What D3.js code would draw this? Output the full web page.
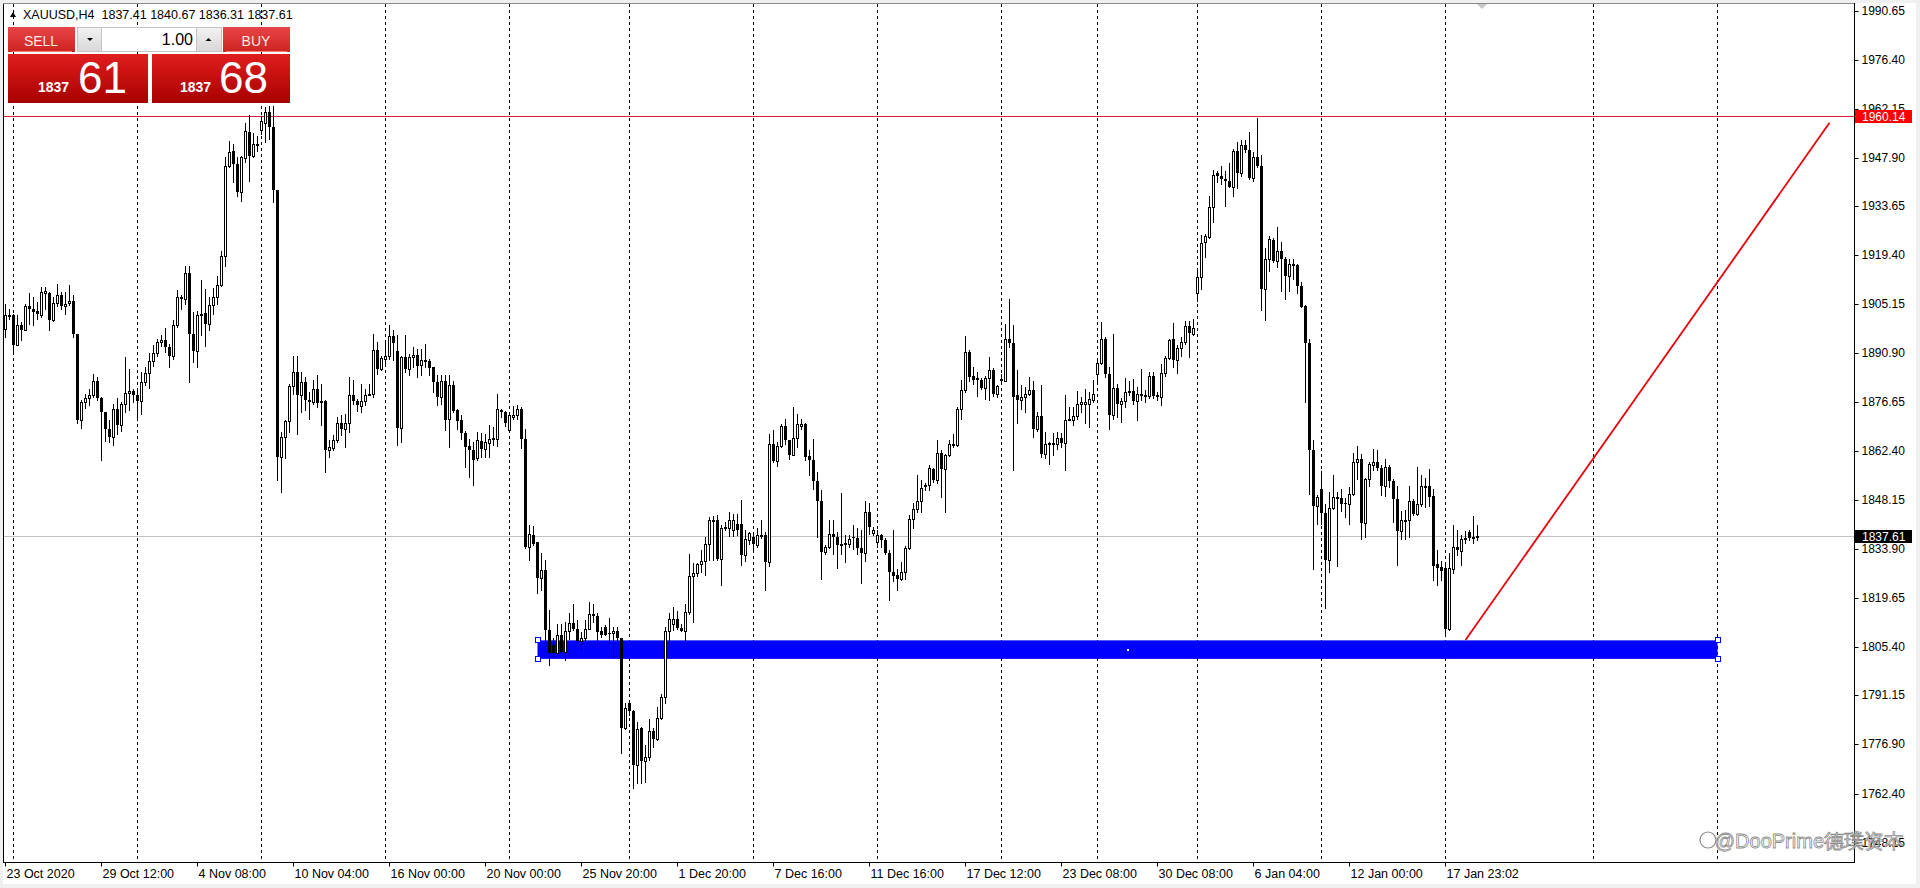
<!DOCTYPE html>
<html><head><meta charset="utf-8">
<script src="https://cdn.jsdelivr.net/npm/d3@7"></script>
<style>body{margin:0;background:#fff;overflow:hidden}text{font-family:"Liberation Sans",Arial,sans-serif}</style>
</head><body><svg id="c" width="1920" height="888"></svg>
<script>
// ---------------- data ----------------
const openP=[1898.0,1902.1,1901.9,1893.3,1899.2,1897.7,1904.5,1903.8,1903.3,1901.9,
1908.4,1908.5,1900.6,1905.6,1907.7,1904.6,1905.6,1906.2,1896.5,1871.5,
1876.7,1877.8,1878.6,1882.7,1877.8,1873.8,1868.9,1866.5,1874.5,1869.9,
1876.2,1879.3,1879.8,1878.6,1876.9,1882.5,1885.1,1888.5,1891.0,1894.1,
1894.8,1892.7,1890.2,1899.2,1907.2,1906.7,1914.3,1896.5,1891.4,1901.9,
1902.6,1899.5,1904.8,1907.2,1910.8,1919.1,1945.5,1949.9,1946.0,1937.8,
1947.8,1955.4,1948.4,1951.8,1955.9,1958.1,1961.1,1956.7,1938.3,1860.6,
1866.5,1871.0,1881.2,1885.4,1878.6,1882.5,1877.2,1876.7,1880.5,1876.9,
1876.9,1862.6,1863.3,1865.5,1870.4,1868.9,1870.4,1878.8,1876.9,1875.5,
1876.9,1878.8,1879.1,1891.7,1886.2,1889.3,1890.2,1895.9,1891.4,1869.1,
1889.9,1886.2,1889.8,1890.4,1887.3,1888.8,1888.5,1886.8,1882.5,1878.1,
1882.7,1871.8,1881.7,1874.2,1871.3,1867.7,1863.9,1862.6,1860.2,1865.2,
1863.1,1864.8,1865.8,1865.9,1874.4,1873.6,1868.6,1872.3,1873.0,1874.7,
1866.0,1834.4,1837.8,1835.9,1825.5,1827.8,1810.2,1805.8,1803.4,1808.9,
1803.9,1810.0,1812.3,1810.4,1807.1,1808.0,1810.6,1815.0,1814.3,1810.0,
1811.1,1809.4,1809.2,1810.0,1807.8,1781.8,1789.0,1786.7,1770.9,1781.8,
1772.1,1773.1,1780.8,1778.6,1784.5,1790.6,1810.0,1812.1,1813.5,1810.9,
1810.0,1815.5,1825.9,1826.7,1829.4,1830.4,1835.2,1842.0,1842.4,1831.0,
1839.8,1839.8,1839.5,1841.2,1841.2,1832.0,1836.4,1837.4,1834.9,1837.5,
1837.8,1830.1,1864.3,1859.5,1863.7,1869.6,1865.5,1861.3,1866.3,1869.8,
1870.1,1860.8,1859.9,1853.6,1847.8,1833.0,1834.3,1838.1,1837.4,1834.9,
1835.2,1835.4,1837.4,1836.9,1834.0,1832.7,1844.6,1838.5,1835.9,1837.8,
1836.4,1832.7,1827.2,1826.2,1825.2,1827.2,1834.0,1842.7,1845.6,1847.8,
1852.4,1852.4,1857.2,1853.8,1861.8,1857.2,1861.1,1864.0,1864.0,1874.7,
1880.2,1891.2,1884.1,1883.7,1883.1,1880.8,1883.7,1885.9,1879.1,1883.4,
1882.8,1895.1,1893.8,1878.6,1877.3,1878.1,1878.9,1880.2,1868.9,1872.5,
1861.6,1864.3,1864.3,1864.5,1866.3,1864.7,1871.3,1871.5,1872.5,1876.2,
1876.2,1876.2,1877.3,1884.7,1888.1,1895.1,1884.9,1872.8,1880.8,1876.0,
1876.9,1879.5,1879.9,1876.9,1879.1,1878.5,1878.5,1884.1,1878.6,1878.1,
1885.1,1889.6,1895.1,1889.0,1892.5,1894.1,1898.7,1896.5,1908.4,1913.0,
1923.2,1924.7,1933.4,1943.3,1942.6,1941.6,1941.2,1939.4,1949.9,1943.3,
1951.4,1950.1,1942.0,1948.0,1945.3,1909.6,1918.4,1923.9,1917.6,1920.6,
1918.2,1913.4,1916.9,1916.6,1910.4,1904.6,1893.9,1862.8,1846.4,1851.3,
1844.4,1830.7,1845.7,1848.7,1848.8,1847.3,1847.0,1849.8,1859.3,1860.1,
1841.4,1854.1,1858.3,1859.3,1857.3,1852.3,1857.8,1853.5,1848.3,1839.0,
1842.0,1842.2,1847.8,1844.0,1847.0,1852.1,1852.1,1849.3,1829.4,1828.7,
1828.2,1810.4,1828.0,1834.4,1833.2,1836.6,1838.7,1837.0,1837.41];
const highP=[1905.3,1903.8,1902.4,1901.9,1899.9,1905.3,1908.5,1907.2,1905.8,1910.1,
1910.1,1908.7,1907.2,1911.1,1908.7,1908.7,1910.8,1907.7,1896.5,1877.2,
1879.1,1880.5,1884.9,1883.9,1878.1,1873.8,1871.3,1876.2,1877.9,1876.7,
1889.8,1886.4,1880.5,1880.5,1885.4,1886.8,1891.0,1893.2,1895.1,1896.1,
1898.3,1893.6,1900.6,1909.2,1907.7,1916.2,1916.2,1902.8,1903.3,1912.1,
1909.6,1907.2,1909.8,1913.5,1920.8,1948.0,1952.8,1951.8,1948.0,1948.4,
1958.1,1960.3,1955.0,1954.1,1960.1,1962.5,1963.0,1963.0,1938.3,1867.9,
1871.3,1882.0,1890.2,1890.2,1885.4,1883.9,1879.6,1883.0,1884.4,1882.0,
1877.2,1865.5,1867.0,1872.3,1872.8,1873.3,1883.9,1883.0,1877.6,1882.0,
1880.5,1882.0,1896.5,1894.1,1890.2,1894.1,1899.0,1897.5,1896.1,1890.2,
1896.1,1890.7,1892.7,1892.2,1892.2,1893.6,1889.3,1886.8,1884.4,1884.4,
1884.4,1884.4,1882.7,1874.7,1872.8,1868.1,1866.0,1865.0,1867.9,1867.7,
1867.4,1869.9,1869.4,1879.0,1874.7,1874.0,1873.4,1875.6,1875.9,1875.2,
1868.9,1840.7,1840.4,1835.9,1832.7,1830.7,1816.0,1807.8,1812.1,1812.1,
1812.6,1815.2,1817.7,1813.1,1809.7,1813.1,1818.4,1817.9,1815.2,1811.0,
1811.6,1813.6,1811.0,1811.2,1807.8,1788.8,1789.8,1786.9,1783.5,1782.0,
1776.7,1784.2,1781.6,1787.9,1791.7,1811.2,1815.2,1817.0,1815.8,1812.1,
1817.9,1832.5,1829.6,1829.8,1833.5,1837.3,1843.2,1843.4,1843.6,1840.7,
1841.7,1844.6,1844.1,1844.1,1848.0,1839.3,1838.8,1838.8,1839.8,1842.4,
1838.8,1867.2,1868.4,1865.0,1870.3,1871.8,1865.7,1875.2,1873.2,1871.8,
1870.5,1862.8,1866.0,1856.3,1850.9,1834.9,1842.4,1842.2,1838.8,1850.2,
1837.8,1837.8,1840.8,1839.8,1839.3,1847.8,1847.1,1840.3,1839.3,1838.3,
1836.9,1833.5,1839.3,1827.9,1830.1,1834.6,1843.7,1847.1,1855.3,1853.8,
1853.1,1858.2,1857.5,1865.7,1862.6,1861.6,1865.5,1867.4,1875.2,1883.0,
1896.0,1891.7,1887.0,1885.4,1883.7,1884.1,1889.7,1886.6,1881.5,1884.9,
1899.5,1906.7,1899.0,1885.9,1881.5,1881.0,1883.9,1882.9,1873.8,1881.5,
1867.9,1865.0,1867.5,1867.9,1867.5,1878.6,1875.2,1875.2,1879.9,1878.1,
1880.5,1879.6,1883.2,1889.3,1899.9,1895.6,1886.8,1896.4,1881.8,1877.9,
1883.7,1882.8,1883.5,1881.0,1886.4,1880.1,1885.4,1885.4,1879.6,1887.8,
1890.2,1895.1,1899.7,1893.2,1895.6,1900.4,1900.4,1900.9,1915.5,1925.2,
1925.5,1936.8,1944.3,1943.9,1945.5,1944.1,1946.2,1950.4,1952.3,1953.0,
1953.0,1955.4,1949.5,1959.3,1948.5,1921.4,1924.9,1924.4,1927.7,1923.4,
1918.9,1918.4,1918.2,1916.9,1911.6,1904.9,1894.9,1865.5,1849.5,1856.5,
1846.8,1850.3,1855.3,1850.3,1851.3,1848.8,1851.8,1861.8,1863.8,1861.5,
1854.5,1859.3,1863.1,1862.8,1858.3,1860.1,1858.3,1854.1,1852.3,1845.0,
1845.2,1852.1,1848.3,1857.8,1855.3,1854.5,1857.1,1851.3,1833.4,1830.2,
1829.2,1832.7,1840.7,1839.4,1838.0,1839.0,1839.4,1843.4,1840.67];
const lowP=[1895.6,1900.9,1890.7,1893.2,1894.6,1897.5,1899.5,1899.0,1900.7,1901.4,
1903.8,1897.5,1900.4,1904.6,1903.8,1902.4,1904.8,1895.6,1870.4,1869.2,
1875.0,1875.7,1878.1,1877.2,1859.9,1865.3,1865.0,1864.1,1867.4,1868.2,
1873.8,1874.2,1876.7,1872.3,1873.3,1881.5,1880.8,1887.1,1890.2,1893.0,
1891.2,1886.8,1889.3,1898.5,1903.8,1905.3,1882.5,1888.3,1886.8,1896.1,
1893.0,1897.5,1902.4,1905.3,1910.6,1916.4,1945.0,1940.7,1936.8,1935.3,
1946.5,1941.2,1948.0,1949.9,1954.7,1952.3,1953.3,1934.9,1853.9,1850.5,
1860.2,1867.9,1879.1,1867.4,1873.8,1874.2,1871.8,1876.2,1875.2,1869.9,
1856.3,1860.6,1862.6,1865.0,1867.0,1863.6,1867.9,1876.2,1873.9,1873.8,
1875.7,1878.6,1878.1,1884.9,1885.9,1887.3,1889.3,1888.8,1864.1,1865.0,
1885.4,1884.4,1886.8,1883.9,1884.4,1886.8,1884.4,1879.6,1875.7,1876.2,
1868.4,1863.6,1873.8,1868.9,1866.0,1857.7,1854.8,1852.6,1859.7,1860.6,
1860.6,1860.6,1864.1,1863.8,1872.3,1869.8,1868.4,1871.8,1871.8,1863.3,
1834.0,1830.7,1834.9,1821.0,1821.8,1806.3,1800.0,1802.6,1802.9,1803.4,
1801.4,1807.5,1810.2,1806.3,1804.4,1807.3,1810.4,1812.6,1805.3,1808.2,
1808.7,1806.3,1802.6,1807.3,1774.3,1781.5,1785.4,1764.1,1765.5,1765.5,
1766.0,1772.3,1776.2,1778.2,1784.2,1789.0,1805.5,1810.2,1810.4,1810.0,
1807.3,1815.0,1812.6,1825.9,1827.2,1826.2,1830.5,1830.5,1830.5,1823.3,
1839.3,1837.5,1837.5,1837.8,1829.1,1830.4,1835.4,1833.0,1834.4,1836.9,
1821.8,1828.8,1859.2,1857.9,1863.5,1864.5,1860.1,1861.1,1863.6,1868.9,
1859.7,1855.3,1851.4,1837.4,1825.2,1832.5,1834.0,1832.5,1828.4,1832.5,
1830.1,1834.4,1833.9,1832.5,1823.8,1830.4,1838.3,1837.8,1834.3,1834.4,
1832.5,1818.9,1824.6,1821.8,1824.7,1825.2,1833.7,1839.8,1844.6,1844.6,
1850.9,1850.9,1853.4,1853.1,1849.0,1844.6,1860.8,1863.5,1863.7,1871.8,
1879.6,1882.9,1882.0,1878.3,1880.5,1877.6,1877.3,1878.3,1878.1,1882.0,
1882.8,1892.7,1856.8,1870.4,1874.7,1873.8,1878.6,1866.5,1868.2,1860.6,
1860.2,1858.7,1861.1,1863.1,1863.6,1856.8,1871.3,1869.9,1871.8,1873.8,
1870.6,1869.4,1876.7,1881.8,1887.8,1883.9,1868.9,1871.8,1872.3,1870.8,
1875.2,1878.6,1876.2,1871.3,1877.1,1876.7,1877.9,1877.9,1877.3,1875.7,
1884.1,1889.3,1886.9,1885.1,1890.2,1893.6,1889.9,1896.1,1906.0,1909.6,
1918.9,1924.5,1929.0,1940.7,1940.2,1933.9,1939.2,1936.8,1939.0,1942.6,
1949.4,1941.5,1941.0,1945.0,1903.6,1900.6,1914.9,1917.4,1915.9,1908.9,
1906.6,1908.9,1912.4,1908.4,1904.2,1876.8,1849.8,1828.0,1841.2,1841.2,
1816.7,1827.2,1845.4,1829.0,1844.8,1843.2,1841.2,1849.5,1854.1,1836.7,
1837.2,1852.3,1856.8,1856.8,1849.5,1849.3,1851.8,1841.7,1829.2,1836.7,
1836.7,1837.2,1843.7,1843.7,1846.4,1846.2,1846.4,1824.7,1823.2,1824.7,
1808.7,1810.2,1826.7,1832.2,1829.2,1835.7,1836.4,1835.7,1836.31];
const closeP=[1901.9,1901.4,1893.3,1899.2,1897.7,1904.6,1903.8,1903.0,1902.2,1908.7,
1908.9,1900.6,1905.6,1907.7,1904.6,1905.3,1906.2,1896.5,1871.5,1876.7,
1877.8,1878.6,1882.7,1877.8,1873.8,1868.9,1866.5,1874.5,1869.9,1876.2,
1879.4,1879.8,1878.6,1876.9,1882.5,1885.1,1888.5,1891.0,1894.1,1894.8,
1892.7,1890.2,1899.2,1907.2,1906.7,1914.3,1896.5,1891.4,1902.1,1902.4,
1899.5,1904.8,1907.2,1910.8,1919.1,1945.5,1949.4,1946.0,1937.8,1948.0,
1955.7,1948.4,1951.8,1951.2,1958.6,1961.1,1956.7,1938.3,1860.6,1866.5,
1871.0,1881.2,1885.4,1878.6,1882.5,1877.2,1876.7,1880.5,1876.5,1876.5,
1862.6,1863.6,1865.5,1870.4,1868.9,1870.6,1878.8,1876.9,1875.7,1876.9,
1878.8,1879.1,1891.7,1886.2,1889.5,1890.2,1895.9,1893.9,1869.1,1889.9,
1886.2,1889.9,1890.4,1887.1,1888.8,1888.3,1886.6,1882.5,1878.1,1882.7,
1871.3,1881.7,1873.9,1871.0,1867.7,1863.6,1862.6,1859.9,1865.5,1863.1,
1865.0,1866.0,1866.2,1874.5,1873.6,1870.5,1873.0,1873.0,1874.7,1866.0,
1834.4,1838.1,1835.2,1825.5,1827.8,1810.2,1803.4,1803.4,1808.9,1803.9,
1810.0,1812.3,1810.4,1807.1,1808.0,1810.6,1815.0,1814.3,1809.7,1808.9,
1808.9,1809.0,1810.0,1807.8,1781.8,1787.4,1786.7,1770.9,1781.3,1772.1,
1773.1,1780.8,1778.6,1784.5,1790.6,1810.0,1813.3,1813.3,1810.7,1810.0,
1815.5,1825.9,1826.7,1829.4,1830.4,1835.2,1842.2,1842.4,1831.0,1840.0,
1840.3,1842.2,1842.2,1839.5,1832.0,1836.6,1838.5,1835.2,1837.8,1837.8,
1830.1,1864.3,1859.5,1863.7,1869.6,1865.5,1861.3,1866.3,1870.1,1870.1,
1860.6,1859.9,1853.6,1847.8,1833.0,1834.3,1838.1,1837.4,1834.9,1835.4,
1835.6,1836.6,1836.9,1834.0,1832.7,1844.6,1840.3,1839.5,1837.8,1836.4,
1832.7,1827.2,1825.9,1825.2,1827.2,1834.0,1842.7,1845.6,1847.8,1851.7,
1851.9,1857.5,1853.8,1861.8,1857.2,1861.1,1864.3,1864.3,1874.7,1880.2,
1891.2,1883.9,1883.1,1883.1,1880.8,1883.7,1885.9,1879.1,1881.2,1882.8,
1895.1,1893.8,1878.1,1877.3,1878.1,1878.9,1880.2,1868.9,1872.5,1861.6,
1864.5,1864.7,1864.7,1866.3,1864.7,1871.5,1871.7,1872.5,1876.2,1876.6,
1876.6,1877.6,1879.1,1888.1,1895.1,1884.9,1872.8,1880.8,1876.0,1876.9,
1879.6,1879.9,1876.9,1879.1,1878.5,1878.7,1884.1,1878.3,1878.1,1885.1,
1889.6,1894.8,1889.0,1892.5,1894.1,1898.7,1896.7,1898.3,1913.0,1922.9,
1924.9,1933.6,1942.9,1942.6,1941.6,1941.0,1939.4,1949.9,1943.3,1951.4,
1950.1,1941.8,1948.0,1945.3,1909.6,1918.4,1924.2,1917.6,1920.6,1918.2,
1913.4,1916.9,1916.4,1910.4,1904.4,1893.9,1862.8,1846.4,1849.1,1844.4,
1830.7,1845.7,1849.1,1849.1,1846.8,1846.8,1849.8,1859.3,1860.1,1841.4,
1854.1,1858.5,1859.3,1857.3,1852.3,1857.8,1853.5,1848.3,1839.0,1842.2,
1842.4,1847.8,1844.0,1847.0,1852.1,1851.7,1849.1,1829.0,1828.4,1827.4,
1810.4,1828.2,1834.4,1833.4,1836.7,1837.0,1837.0,1837.4,1837.61];

const xTickIdx=[0,24,48,72,96,120,144,168,192,216,240,264,288,312,336,360];
const xTickLabels=["23 Oct 2020","29 Oct 12:00","4 Nov 08:00","10 Nov 04:00","16 Nov 00:00","20 Nov 00:00","25 Nov 20:00","1 Dec 20:00","7 Dec 16:00","11 Dec 16:00","17 Dec 12:00","23 Dec 08:00","30 Dec 08:00","6 Jan 04:00","12 Jan 00:00","17 Jan 23:02"];
const yTickValues=[1990.65,1976.40,1962.15,1947.90,1933.65,1919.40,1905.15,1890.90,1876.65,1862.40,1848.15,1833.90,1819.65,1805.40,1791.15,1776.90,1762.40,1748.15];
const yTickLabels=["1990.65","1976.40","1962.15","1947.90","1933.65","1919.40","1905.15","1890.90","1876.65","1862.40","1848.15","1833.90","1819.65","1805.40","1791.15","1776.90","1762.40","1748.15"];
const weekGridIdx=[2,33,64,95,126,156,187,218,249,273,298,329,360,397,428];
const symbolHeader="XAUUSD,H4  1837.41 1840.67 1836.31 1837.61";
const resistanceLevel=1960.14;
const bidPrice=1837.61;
const zoneStartIdx=133, zoneEndIdx=428, zoneTop=1807.2, zoneBottom=1801.8;
const trendStartIdx=365, trendStartPrice=1807.3, trendEndIdx=456, trendEndPrice=1958.0;
const sellBig="1837", sellSmall="61", buyBig="1837", buySmall="68", lotText="1.00";
const watermark="@DooPrime德璞资本";

// ---------------- drawing ----------------
const svg=d3.select("#c");
const L=3, T=3, R=1854, B=862;
const x=d3.scaleLinear().domain([0,1]).range([5.5,9.5]);
const y=d3.scaleLinear().domain([1748.15,1990.65]).range([843,10.8]);
const defs=svg.append("defs");
function grad(id,a,b){const g=defs.append("linearGradient").attr("id",id).attr("x1",0).attr("y1",0).attr("x2",0).attr("y2",1);
 g.append("stop").attr("offset","0%").attr("stop-color",a);g.append("stop").attr("offset","100%").attr("stop-color",b);}
grad("gTop","#e64646","#cf2222");grad("gBig","#e01e1e","#a80000");grad("gBtn","#f2f2f2","#d8d8d8");

svg.append("rect").attr("width",1920).attr("height",888).attr("fill","#f0f0f0");
svg.append("rect").attr("x",L).attr("y",T).attr("width",1916-L).attr("height",884-T).attr("fill","#fff");

// grid
svg.append("g").selectAll("line").data(weekGridIdx).join("line")
 .attr("x1",d=>Math.floor(x(d))+0.5).attr("x2",d=>Math.floor(x(d))+0.5)
 .attr("y1",T+1).attr("y2",B).attr("stroke","#000").attr("stroke-width",1).attr("stroke-dasharray","3,3");

// zone box
svg.append("rect").attr("x",x(zoneStartIdx)).attr("y",y(zoneTop)).attr("width",x(zoneEndIdx)-x(zoneStartIdx))
 .attr("height",y(zoneBottom)-y(zoneTop)).attr("fill","#0000ff");
// horizontal lines
svg.append("line").attr("x1",L).attr("x2",R).attr("y1",Math.round(y(resistanceLevel))+0.5).attr("y2",Math.round(y(resistanceLevel))+0.5)
 .attr("stroke","#d8203a").attr("stroke-width",1);
svg.append("line").attr("x1",L).attr("x2",R).attr("y1",Math.round(y(bidPrice))+0.5).attr("y2",Math.round(y(bidPrice))+0.5)
 .attr("stroke","#c0c0c0").attr("stroke-width",1);

// candles
const data=openP.map((o,i)=>({i,o,h:highP[i],l:lowP[i],c:closeP[i]}));
const cg=svg.append("g");
cg.selectAll("line").data(data).join("line")
 .attr("x1",d=>Math.floor(x(d.i))+0.5).attr("x2",d=>Math.floor(x(d.i))+0.5)
 .attr("y1",d=>Math.round(y(d.h))).attr("y2",d=>Math.round(y(d.l))+1)
 .attr("stroke","#000").attr("stroke-width",1);
cg.selectAll("rect").data(data).join("rect")
 .each(function(d){
   const cx=Math.floor(x(d.i));
   const yo=Math.round(y(d.o)), yc=Math.round(y(d.c));
   const top=Math.min(yo,yc), bot=Math.max(yo,yc);
   const s=d3.select(this);
   if(d.c>=d.o && bot-top>=2){
     s.attr("x",cx-0.5).attr("y",top+0.5).attr("width",2).attr("height",bot-top).attr("fill","#fff").attr("stroke","#000").attr("stroke-width",1);
   } else {
     s.attr("x",cx-1).attr("y",top).attr("width",3).attr("height",Math.max(bot-top,1)+ (d.c>=d.o?1:0)).attr("fill","#000");
   }
 });

// zone handles
const hx=[x(zoneStartIdx),x(zoneEndIdx)], hy=[y(zoneTop),y(zoneBottom)];
hx.forEach(a=>hy.forEach(b=>svg.append("rect").attr("x",Math.round(a)-2.5).attr("y",Math.round(b)-2.5).attr("width",5).attr("height",5)
 .attr("fill","#fff").attr("stroke","#0000ff").attr("stroke-width",1)));
svg.append("rect").attr("x",Math.round((hx[0]+hx[1])/2)-1).attr("y",Math.round((hy[0]+hy[1])/2)-1).attr("width",2).attr("height",2).attr("fill","#fff");

// trend line
svg.append("line").attr("x1",x(trendStartIdx)).attr("y1",y(trendStartPrice)).attr("x2",x(trendEndIdx)).attr("y2",y(trendEndPrice))
 .attr("stroke","#e8000b").attr("stroke-width",1.8);

// chart frame
svg.append("line").attr("x1",L+0.5).attr("x2",L+0.5).attr("y1",T).attr("y2",B).attr("stroke","#000");
svg.append("line").attr("x1",L).attr("x2",R+1).attr("y1",T+0.5).attr("y2",T+0.5).attr("stroke","#8a8a8a");
svg.append("line").attr("x1",R+0.5).attr("x2",R+0.5).attr("y1",T).attr("y2",B+1).attr("stroke","#000");
svg.append("line").attr("x1",L).attr("x2",R+1).attr("y1",B+0.5).attr("y2",B+0.5).attr("stroke","#000");
// shift marker
svg.append("path").attr("d","M1477,4 L1487,4 L1482,9 Z").attr("fill","#c8c8c8");

// right axis
const ya=svg.append("g").attr("transform",`translate(${R+0.5},0)`)
 .call(d3.axisRight(y).tickValues(yTickValues).tickFormat((d,i)=>yTickLabels[i]).tickSize(4).tickPadding(3));
ya.select(".domain").remove();
ya.selectAll("text").attr("font-size",12).attr("fill","#000").attr("font-family","Liberation Sans, Arial");
ya.selectAll(".tick line").attr("stroke","#000");
ya.selectAll(".tick").attr("transform",d=>`translate(0,${Math.round(y(d))+0.5})`);

// bottom axis
const xa=svg.append("g").attr("transform",`translate(0,${B+0.5})`)
 .call(d3.axisBottom(x).tickValues(xTickIdx).tickFormat((d,i)=>xTickLabels[i]).tickSize(4).tickPadding(3));
xa.select(".domain").remove();
xa.selectAll(".tick").attr("transform",d=>`translate(${Math.floor(x(d))+0.5},0)`);
xa.selectAll(".tick line").attr("stroke","#000");
xa.selectAll("text").attr("text-anchor","start").attr("x",1).attr("font-size",12.5).attr("fill","#000").attr("font-family","Liberation Sans, Arial");

// price labels
function priceTag(p,bg,txt){
  const yy=Math.round(y(p));
  svg.append("rect").attr("x",R+1).attr("y",yy-6).attr("width",57).attr("height",13).attr("fill",bg);
  svg.append("text").attr("x",R+8).attr("y",yy+4.5).attr("font-size",12).attr("fill","#fff").text(txt);
}
priceTag(resistanceLevel,"#ff0000",resistanceLevel.toFixed(2));
priceTag(bidPrice,"#000000",bidPrice.toFixed(2));

// header
svg.append("path").attr("d","M10,17 L16,17 L13,12 Z").attr("fill","#000");
svg.append("text").attr("x",23).attr("y",19).attr("font-size",12.5).attr("fill","#000").attr("xml:space","preserve").text(symbolHeader);

// trade panel
const P=svg.append("g");
P.append("rect").attr("x",8).attr("y",27).attr("width",67).attr("height",25).attr("fill","url(#gTop)");
P.append("rect").attr("x",223).attr("y",27).attr("width",67).attr("height",25).attr("fill","url(#gTop)");
P.append("line").attr("x1",12).attr("x2",72).attr("y1",51.5).attr("y2",51.5).attr("stroke","#f08080");
P.append("line").attr("x1",226).attr("x2",287).attr("y1",51.5).attr("y2",51.5).attr("stroke","#f08080");
P.append("rect").attr("x",77.5).attr("y",27.5).attr("width",24).attr("height",24).attr("fill","url(#gBtn)").attr("stroke","#c4c4c4");
P.append("rect").attr("x",101.5).attr("y",27.5).attr("width",95).attr("height",24).attr("fill","#fff").attr("stroke","#c4c4c4");
P.append("rect").attr("x",196.5).attr("y",27.5).attr("width",25).attr("height",24).attr("fill","url(#gBtn)").attr("stroke","#c4c4c4");
P.append("path").attr("d","M87,38 L93,38 L90,41 Z").attr("fill","#000");
P.append("path").attr("d","M205.5,41 L211.5,41 L208.5,38 Z").attr("fill","#000");
P.append("rect").attr("x",8).attr("y",54).attr("width",140).attr("height",49).attr("fill","url(#gBig)");
P.append("rect").attr("x",152).attr("y",54).attr("width",138).attr("height",49).attr("fill","url(#gBig)");
P.append("text").attr("x",41).attr("y",46).attr("text-anchor","middle").attr("font-size",14).attr("fill","#ffe8e8").text("SELL");
P.append("text").attr("x",256).attr("y",46).attr("text-anchor","middle").attr("font-size",14).attr("fill","#ffe8e8").text("BUY");
P.append("text").attr("x",193).attr("y",45).attr("text-anchor","end").attr("font-size",16).attr("fill","#000").text(lotText);
P.append("text").attr("x",38).attr("y",92).attr("font-size",14).attr("font-weight","bold").attr("fill","#fff").text(sellBig);
P.append("text").attr("x",78).attr("y",93).attr("font-size",44).attr("fill","#fff").text(sellSmall);
P.append("text").attr("x",180).attr("y",92).attr("font-size",14).attr("font-weight","bold").attr("fill","#fff").text(buyBig);
P.append("text").attr("x",219).attr("y",93).attr("font-size",44).attr("fill","#fff").text(buySmall);

// watermark
const W=svg.append("g").attr("fill","#fff").attr("fill-opacity",0.7).attr("stroke","#8c8c8c").attr("stroke-width",0.8);
W.append("circle").attr("cx",1708).attr("cy",840).attr("r",8).attr("fill","none").attr("stroke-width",1.2);
W.append("text").attr("x",1904).attr("y",848).attr("text-anchor","end").attr("font-size",20)
 .attr("font-family","Noto Sans CJK SC, sans-serif").text(watermark);
</script></body></html>
